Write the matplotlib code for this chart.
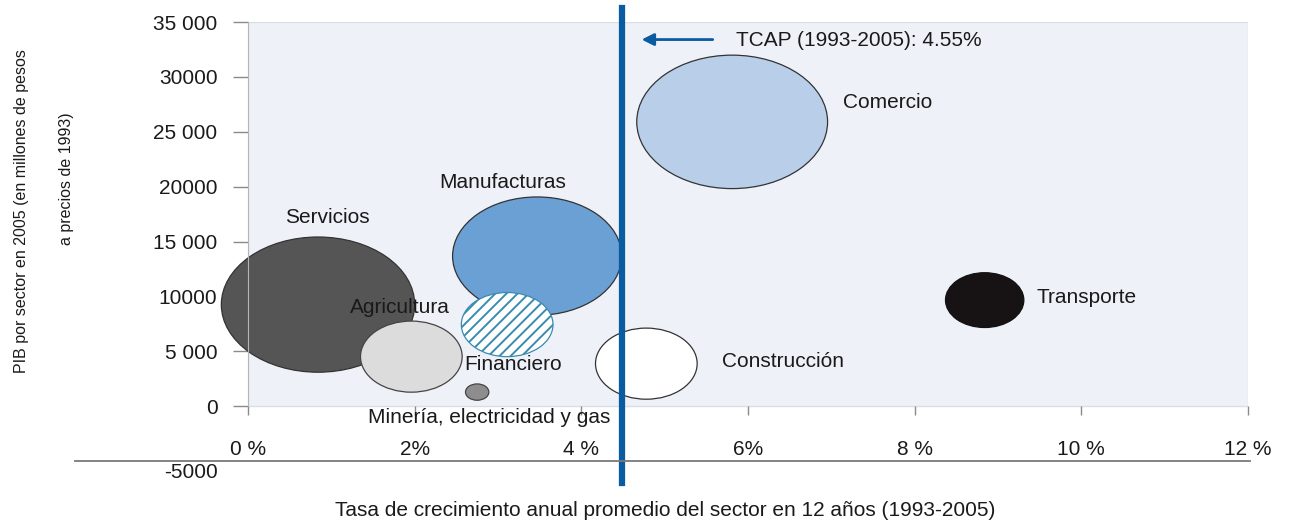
import matplotlib
matplotlib.use('Agg')
import matplotlib.pyplot as plt
import matplotlib.transforms as mtransforms
from matplotlib.lines import Line2D
from matplotlib.patches import Ellipse, Rectangle

plt.rcParams['font.family'] = ['Liberation Sans', 'DejaVu Sans']
plt.rcParams['hatch.linewidth'] = 1.4

# ---- datos ----
sectores = ['Servicios', 'Manufacturas', 'Comercio', 'Agricultura',
            'Financiero', 'Construcción', 'Transporte',
            'Minería, electricidad y gas']
tasa = [0.84, 3.47, 5.81, 1.96, 3.11, 4.78, 8.84, 2.75]        # % anual
pib = [9250, 13670, 25900, 4510, 7430, 3870, 9660, 1280]        # millones de pesos
burbuja = [2.32, 2.03, 2.29, 1.22, 1.10, 1.22, 0.94, 0.28]      # diámetro (en puntos %)
tcap = 4.49
tcap_texto = 'TCAP (1993-2005): 4.55%'

xticks = [0, 2, 4, 6, 8, 10, 12]
xtick_labels = ['0 %', '2%', '4 %', '6%', '8 %', '10 %', '12 %']
yticks = [0, 5000, 10000, 15000, 20000, 25000, 30000, 35000]
ytick_labels = ['0', '5 000', '10000', '15 000', '20000', '25 000', '30000', '35 000']

# estilo de cada burbuja
colores = ['#555555', '#6aa0d3', '#b9cee9', '#dcdcdc', 'white', 'white', '#171314', '#8d8d8d']
bordes = ['#333333', '#333333', '#333333', '#444444', '#3a8bb0', '#333333', '#111111', '#444444']
tramas = [None, None, None, None, '///', None, None, None]
# posición de cada etiqueta (x, y, alineación)
etiquetas = [(0.95, 17230, 'center'), (3.06, 20420, 'center'), (7.14, 27700, 'left'),
             (1.82, 9020, 'center'), (3.18, 3830, 'center'), (5.69, 4100, 'left'),
             (9.46, 9940, 'left'), (2.90, -1000, 'center')]

AZUL = '#0b5ba1'
TEXTO = '#1a1a1a'
ASPECTO = 5310  # unidades de PIB por punto % para que las burbujas salgan como en el original

fig = plt.figure(figsize=(12.89, 5.23), dpi=100)
ax = fig.add_axes([248 / 1289, 1 - 461 / 523, 1000 / 1289, 439 / 523])
ax.set_xlim(0, 12)
ax.set_ylim(-5000, 35000)

# fondo del área de trazado
ax.add_patch(Rectangle((0, 0), 12, 35000, facecolor='#eef2f8',
                       edgecolor='#d9dee5', lw=1, zorder=0))

for i, nombre in enumerate(sectores):
    e = Ellipse((tasa[i], pib[i]), burbuja[i], burbuja[i] * ASPECTO,
                facecolor=colores[i], edgecolor=bordes[i], lw=0.9,
                hatch=tramas[i], zorder=2, clip_on=False)
    ax.add_patch(e)
    lx, ly, ha = etiquetas[i]
    ax.text(lx, ly, nombre, ha=ha, va='center', fontsize=15, color=TEXTO, zorder=4)

# línea de la TCAP
ax.axvline(tcap, ymin=-0.05, ymax=1.032, color=AZUL, lw=4.5, clip_on=False, zorder=3)
ax.annotate('', xy=(tcap + 0.2, 33400), xytext=(tcap + 1.12, 33400),
            arrowprops=dict(arrowstyle='-|>', color=AZUL, lw=2, mutation_scale=18))
ax.text(tcap + 1.36, 33300, tcap_texto, ha='left', va='center', fontsize=15, color=TEXTO)

# ejes
for s in ['top', 'right']:
    ax.spines[s].set_visible(False)
ax.spines['left'].set_bounds(0, 35000)
ax.spines['left'].set_color('#b5b5b5')
ax.spines['bottom'].set_position(('data', 0))
ax.spines['bottom'].set_linewidth(0)

ax.set_yticks(yticks)
ax.set_yticklabels(ytick_labels)
ax.tick_params(axis='y', length=11, width=1, color='#8a8a8a', pad=11,
               labelsize=15, labelcolor=TEXTO)
ax.set_xticks(xticks)
ax.set_xticklabels(xtick_labels)
ax.tick_params(axis='x', length=6.5, width=1, color='#8a8a8a', pad=18,
               labelsize=15, labelcolor=TEXTO)

ax.annotate('-5000', xy=(0, -5000), xytext=(-22, -8), textcoords='offset points',
            ha='right', va='center', fontsize=15, color=TEXTO)

# línea inferior en -5000 que se sale del área por la izquierda
trans = mtransforms.blended_transform_factory(fig.transFigure, ax.transData)
fig.add_artist(Line2D([75 / 1289, 1250 / 1289], [-5000, -5000], transform=trans,
                      color='#7a7a7a', lw=1.3))

# títulos de los ejes
fig.text(665 / 1289, 1 - 511 / 523,
         'Tasa de crecimiento anual promedio del sector en 12 años (1993-2005)',
         ha='center', va='center', fontsize=15, color=TEXTO)
fig.text(22 / 1289, 1 - 211 / 523, 'PIB por sector en 2005 (en millones de pesos',
         rotation=90, ha='center', va='center', fontsize=11.5, color=TEXTO)
fig.text(67 / 1289, 1 - 179 / 523, 'a precios de 1993)',
         rotation=90, ha='center', va='center', fontsize=11.5, color=TEXTO)

fig.savefig('out.png', dpi=100)
